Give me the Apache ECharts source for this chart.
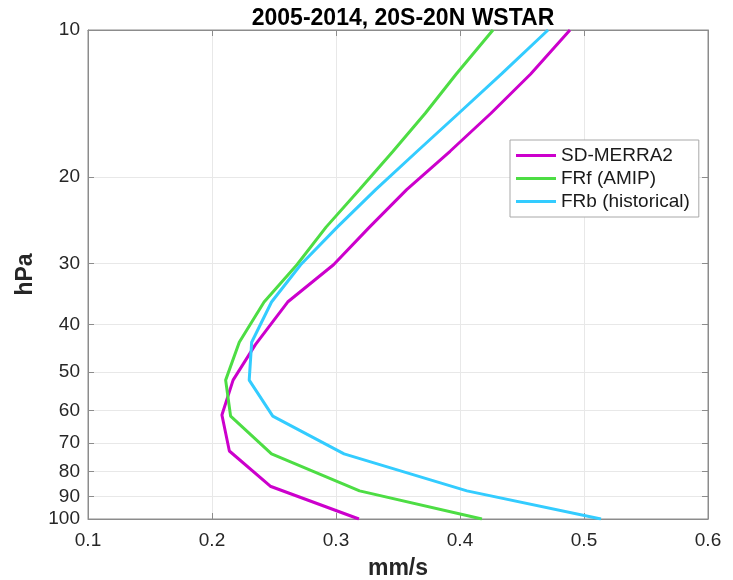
<!DOCTYPE html>
<html>
<head>
<meta charset="utf-8">
<script src="https://cdn.jsdelivr.net/npm/echarts@6/dist/echarts.min.js"></script>
<style>
  html, body { margin: 0; padding: 0; background: #fff; }
  #chart { width: 733px; height: 580px; }
</style>
</head>
<body>
<div id="chart"></div>
<script>
// pressure levels (hPa)
var levelsSD = [10, 12.3, 14.8, 17.7, 21.2, 25.3, 30.2, 36, 44, 52, 61.3, 72.6, 85.7, 100];
var levelsFR = [10, 12.3, 14.8, 17.7, 21.2, 25.3, 30.2, 36, 43.5, 52, 61.6, 73.6, 87.6, 100];

// WSTAR (mm/s)
var sdMerra2 = [0.4887, 0.457, 0.425, 0.392, 0.357, 0.327, 0.298, 0.261, 0.235, 0.217, 0.208, 0.214, 0.247, 0.3185];
var frfAmip = [0.4266, 0.397, 0.372, 0.346, 0.319, 0.292, 0.2685, 0.242, 0.222, 0.211, 0.215, 0.248, 0.319, 0.4177];
var frbHist = [0.471, 0.4335, 0.399, 0.3655, 0.332, 0.301, 0.2715, 0.248, 0.232, 0.230, 0.249, 0.3065, 0.4056, 0.5137];

var pressureTicks = [10, 20, 30, 40, 50, 60, 70, 80, 90, 100];
var seriesNames = ["SD-MERRA2", "FRf (AMIP)", "FRb (historical)"];
var colors = ["#cc00cc", "#4ddd44", "#33ccff"];

function pairs(xs, ps) {
  return xs.map(function (v, i) { return [v, ps[i]]; });
}

var font = "Liberation Sans";
var axisGray = "#8c8c8c";
var gridGray = "#e8e8e8";

var chart = echarts.init(document.getElementById("chart"));

function makeLine(name, data, color) {
  return {
    name: name,
    type: "line",
    data: data,
    symbol: "none",
    smooth: false,
    clip: true,
    lineStyle: { width: 3, color: color },
    itemStyle: { color: color }
  };
}

chart.setOption({
  animation: false,
  color: colors,
  title: {
    text: "2005-2014, 20S-20N WSTAR",
    left: 398,
    textAlign: "center",
    top: 2,
    textStyle: { fontFamily: font, fontWeight: "bold", fontSize: 23, color: "#000" }
  },
  grid: {
    left: 88,
    right: 25,
    top: 30,
    bottom: 61,
    outerBoundsMode: "none",
    containLabel: false,
    show: true,
    borderColor: axisGray,
    borderWidth: 1,
    backgroundColor: "#fff"
  },
  legend: {
    orient: "vertical",
    left: 510,
    top: 140,
    data: seriesNames,
    icon: "rect",
    itemWidth: 40,
    itemHeight: 3,
    itemGap: 4,
    padding: [6, 9, 6, 6],
    borderColor: "#a8a8a8",
    borderWidth: 1,
    backgroundColor: "#fff",
    textStyle: { fontFamily: font, fontSize: 19, color: "#1a1a1a" }
  },
  xAxis: [
    {
      type: "value",
      min: 0.1,
      max: 0.6,
      interval: 0.1,
      name: "mm/s",
      nameLocation: "middle",
      nameGap: 38,
      nameTextStyle: { fontFamily: font, fontWeight: "bold", fontSize: 23, color: "#262626" },
      axisLine: { show: true, lineStyle: { color: axisGray, width: 1 } },
      axisTick: { show: true, inside: true, length: 6, lineStyle: { color: axisGray } },
      axisLabel: {
        fontFamily: font, fontSize: 19, color: "#262626", margin: 12,
        formatter: function (v) { return v.toFixed(1); }
      },
      splitLine: { show: true, lineStyle: { color: gridGray, width: 1 } }
    },
    {
      type: "value",
      position: "top",
      min: 0.1,
      max: 0.6,
      interval: 0.1,
      axisLine: { show: true, lineStyle: { color: axisGray, width: 1 } },
      axisTick: { show: true, inside: true, length: 6, lineStyle: { color: axisGray } },
      axisLabel: { show: false },
      splitLine: { show: false }
    }
  ],
  yAxis: [
    {
      type: "log",
      logBase: 10,
      min: 10,
      max: 100,
      inverse: true,
      name: "hPa",
      nameLocation: "middle",
      nameGap: 41,
      nameTextStyle: { fontFamily: font, fontWeight: "bold", fontSize: 23, color: "#262626" },
      axisLine: { show: true, lineStyle: { color: axisGray, width: 1 } },
      axisTick: { show: true, inside: true, length: 6, customValues: pressureTicks, lineStyle: { color: axisGray } },
      axisLabel: {
        fontFamily: font, fontSize: 19, color: "#262626", margin: 8,
        customValues: pressureTicks,
        formatter: function (v) { return String(Math.round(v)); }
      },
      splitLine: { show: true, lineStyle: { color: gridGray, width: 1 } }
    },
    {
      type: "log",
      logBase: 10,
      min: 10,
      max: 100,
      inverse: true,
      position: "right",
      axisLine: { show: true, lineStyle: { color: axisGray, width: 1 } },
      axisTick: { show: true, inside: true, length: 6, customValues: pressureTicks, lineStyle: { color: axisGray } },
      axisLabel: { show: false },
      splitLine: { show: false }
    }
  ],
  series: [
    makeLine(seriesNames[0], pairs(sdMerra2, levelsSD), colors[0]),
    makeLine(seriesNames[1], pairs(frfAmip, levelsFR), colors[1]),
    makeLine(seriesNames[2], pairs(frbHist, levelsFR), colors[2])
  ]
});
</script>
</body>
</html>
